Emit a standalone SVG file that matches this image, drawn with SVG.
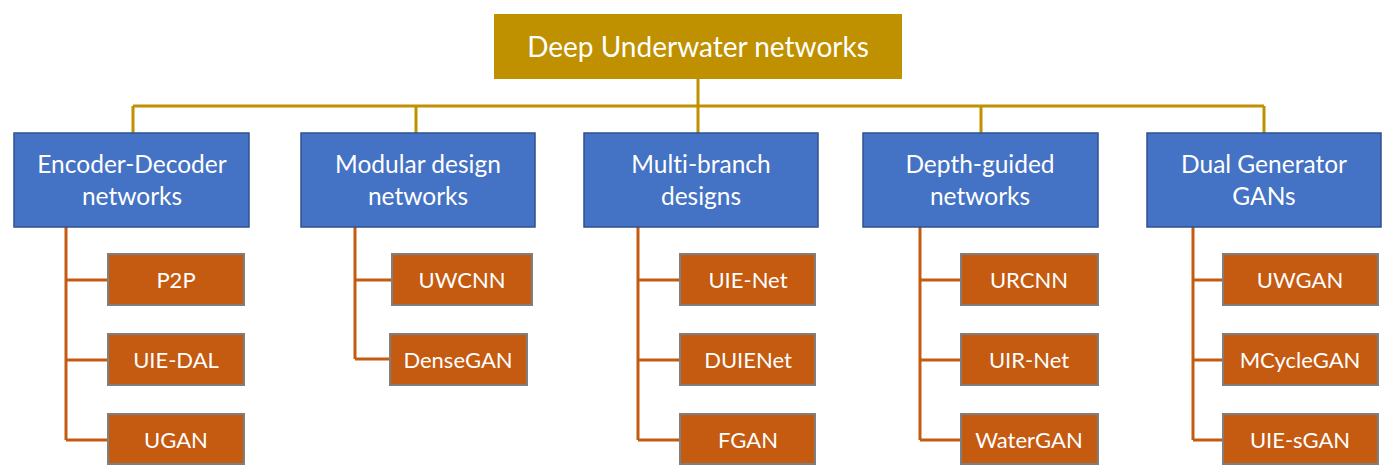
<svg xmlns="http://www.w3.org/2000/svg" width="1392" height="471" viewBox="0 0 1392 471">
<style>
.root{fill:#BF9000}
.cat{fill:#4472C4;stroke:#2F528F;stroke-width:1.5}
.leaf{fill:#C55A11;stroke:#7F7F7F;stroke-width:2}
text{font-family:Lato,"Open Sans","Liberation Sans",sans-serif;fill:#fff;text-anchor:middle;font-variant-ligatures:none;font-feature-settings:"liga" 0,"dlig" 0}
.t0{font-size:28px}
.t1{font-size:24.5px}
.t2{font-size:22px}
.gold{stroke:#BF9000;stroke-width:3;fill:none}
.or{stroke:#C55A11;stroke-width:3;fill:none}
</style>
<rect width="1392" height="471" fill="#fff"/>
<g id="connectors">
<path class="gold" d="M698,79V133M133,106H1264M133,106V133M416,106V133M981,106V133M1264,106V133"/>
<path class="or" d="M66,227V440M66,280H108M66,360H108M66,440H108"/>
<path class="or" d="M355,227V359M355,280H392M355,359H390"/>
<path class="or" d="M638,227V440M638,280H680M638,360H680M638,440H680"/>
<path class="or" d="M920,227V440M920,280H961M920,360H961M920,440H961"/>
<path class="or" d="M1193,227V440M1193,280H1223M1193,360H1223M1193,440H1223"/>
</g>
<g id="root"><rect class="root" x="494" y="14" width="408" height="65"/><text class="t0" x="698" y="57">Deep Underwater networks</text></g>
<g id="cat-encoder"><rect class="cat" x="14" y="133" width="235" height="94"/><text class="t1" x="132" y="173">Encoder-Decoder</text><text class="t1" x="132" y="205">networks</text></g>
<g id="cat-modular"><rect class="cat" x="301" y="133" width="234" height="94"/><text class="t1" x="418" y="173">Modular design</text><text class="t1" x="418" y="205">networks</text></g>
<g id="cat-multi"><rect class="cat" x="584" y="133" width="234" height="94"/><text class="t1" x="701" y="173">Multi-branch</text><text class="t1" x="701" y="205">designs</text></g>
<g id="cat-depth"><rect class="cat" x="863" y="133" width="235" height="94"/><text class="t1" x="980" y="173">Depth-guided</text><text class="t1" x="980" y="205">networks</text></g>
<g id="cat-dual"><rect class="cat" x="1147" y="133" width="234" height="94"/><text class="t1" x="1264" y="173">Dual Generator</text><text class="t1" x="1264" y="205">GANs</text></g>
<g id="leaf-p2p"><rect class="leaf" x="108" y="254" width="136" height="51"/><text class="t2" x="176" y="288">P2P</text></g>
<g id="leaf-uiedal"><rect class="leaf" x="108" y="334" width="136" height="51"/><text class="t2" x="176" y="368">UIE-DAL</text></g>
<g id="leaf-ugan"><rect class="leaf" x="108" y="414" width="136" height="50"/><text class="t2" x="176" y="448">UGAN</text></g>
<g id="leaf-uwcnn"><rect class="leaf" x="392" y="254" width="140" height="51"/><text class="t2" x="462" y="288">UWCNN</text></g>
<g id="leaf-densegan"><rect class="leaf" x="390" y="334" width="137" height="51"/><text class="t2" x="458" y="368">DenseGAN</text></g>
<g id="leaf-uienet"><rect class="leaf" x="680" y="254" width="135" height="51"/><text class="t2" x="748" y="288">UIE-Net</text></g>
<g id="leaf-duienet"><rect class="leaf" x="680" y="334" width="135" height="51"/><text class="t2" x="748" y="368">DUIENet</text></g>
<g id="leaf-fgan"><rect class="leaf" x="680" y="414" width="135" height="50"/><text class="t2" x="748" y="448">FGAN</text></g>
<g id="leaf-urcnn"><rect class="leaf" x="961" y="254" width="137" height="51"/><text class="t2" x="1029" y="288">URCNN</text></g>
<g id="leaf-uirnet"><rect class="leaf" x="961" y="334" width="137" height="51"/><text class="t2" x="1029" y="368">UIR-Net</text></g>
<g id="leaf-watergan"><rect class="leaf" x="961" y="414" width="137" height="50"/><text class="t2" x="1029" y="448">WaterGAN</text></g>
<g id="leaf-uwgan"><rect class="leaf" x="1223" y="254" width="155" height="51"/><text class="t2" x="1300" y="288">UWGAN</text></g>
<g id="leaf-mcyclegan"><rect class="leaf" x="1223" y="334" width="155" height="51"/><text class="t2" x="1300" y="368">MCycleGAN</text></g>
<g id="leaf-uiesgan"><rect class="leaf" x="1223" y="414" width="155" height="50"/><text class="t2" x="1300" y="448">UIE-sGAN</text></g>
</svg>
